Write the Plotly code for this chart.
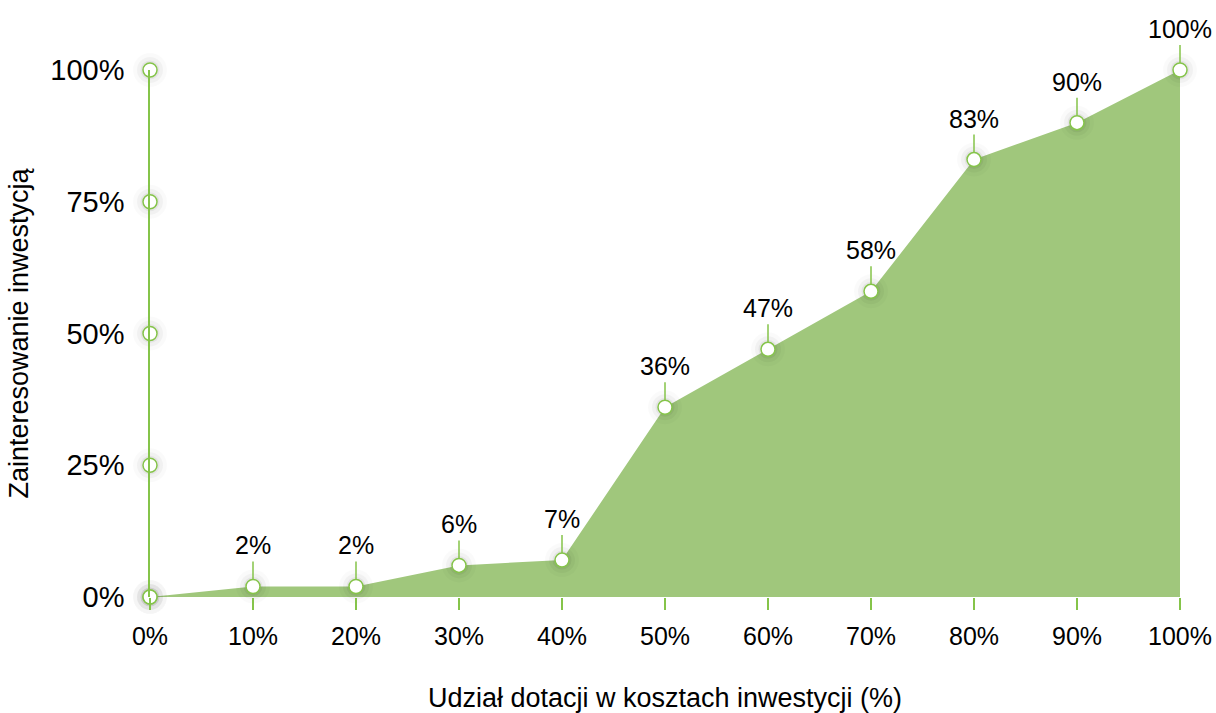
import plotly.graph_objects as go

x_vals = [0, 10, 20, 30, 40, 50, 60, 70, 80, 90, 100]
y_vals = [0, 2, 2, 6, 7, 36, 47, 58, 83, 90, 100]
point_labels = ["", "2%", "2%", "6%", "7%", "36%", "47%", "58%", "83%", "90%", "100%"]
y_ticks = [0, 25, 50, 75, 100]
y_tick_labels = ["0%", "25%", "50%", "75%", "100%"]
x_tick_labels = ["0%", "10%", "20%", "30%", "40%", "50%", "60%", "70%", "80%", "90%", "100%"]

GREEN = "#85c44a"
FILL = "#a0c77c"
FONT = "Liberation Sans, Arial, sans-serif"

fig = go.Figure()

# area
fig.add_trace(go.Scatter(
    x=x_vals, y=y_vals, mode="lines", line=dict(color=FILL, width=0),
    fill="tozeroy", fillcolor=FILL, hoverinfo="skip", showlegend=False,
))

# soft shadows under markers
for sz, op in [(34, 0.02), (26, 0.035), (19, 0.05)]:
    fig.add_trace(go.Scatter(
        x=x_vals + [0] * len(y_ticks), y=y_vals + y_ticks, mode="markers",
        marker=dict(size=sz, color="rgba(0,0,0,%s)" % op, line=dict(width=0)),
        cliponaxis=False, hoverinfo="skip", showlegend=False,
    ))

# y-axis tick markers
fig.add_trace(go.Scatter(
    x=[0] * len(y_ticks), y=y_ticks, mode="markers",
    marker=dict(size=14, color="white", line=dict(color=GREEN, width=1.5)),
    cliponaxis=False, showlegend=False,
))

# data markers
fig.add_trace(go.Scatter(
    x=x_vals, y=y_vals, mode="markers",
    marker=dict(size=14, color="white", line=dict(color=GREEN, width=1.5)),
    cliponaxis=False, showlegend=False,
))

for xv, yv, lab in zip(x_vals, y_vals, point_labels):
    if not lab:
        continue
    fig.add_annotation(
        x=xv, y=yv, text=lab, showarrow=True, arrowhead=0, arrowwidth=1.5,
        arrowcolor=GREEN, ax=0, ay=-25, standoff=7,
        font=dict(size=25, color="black", family=FONT),
        yanchor="bottom",
    )

fig.update_layout(
    width=1216, height=713,
    margin=dict(l=150, r=36, t=70, b=116),
    paper_bgcolor="white", plot_bgcolor="white",
    font=dict(family=FONT, color="black"),
    xaxis=dict(
        range=[0, 100], tickmode="array", tickvals=x_vals, ticktext=x_tick_labels,
        showgrid=False, zeroline=False, showline=False, automargin=False,
        ticks="outside", ticklen=12, tickwidth=1.5, tickcolor=GREEN,
        ticklabelstandoff=5,
        tickfont=dict(size=25, family=FONT),
        title=dict(text="Udział dotacji w kosztach inwestycji (%)", font=dict(size=27), standoff=42),
    ),
    yaxis=dict(
        range=[0, 100], tickmode="array", tickvals=y_ticks, ticktext=y_tick_labels,
        showgrid=False, zeroline=False, showline=True, linecolor=GREEN, linewidth=1.5,
        ticks="", ticklabelstandoff=18, automargin=False,
        tickfont=dict(size=29, family=FONT),
        title=dict(text="Zainteresowanie inwestycją", font=dict(size=27), standoff=14),
    ),
)

fig.write_html(
    "out.html",
    config={"displayModeBar": False},
    post_script="document.body.style.margin='0';document.body.style.overflow='hidden';",
)
